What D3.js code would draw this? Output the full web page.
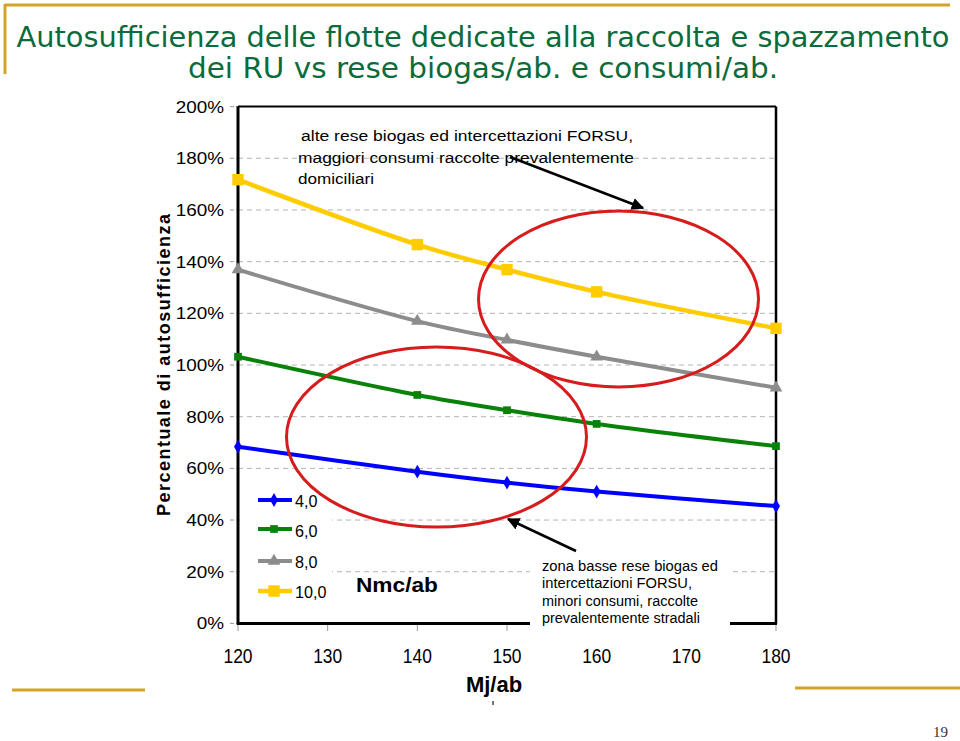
<!DOCTYPE html>
<html><head><meta charset="utf-8">
<script src="https://cdn.jsdelivr.net/npm/d3@7"></script>
<style>body{margin:0;background:#fff;} svg{display:block}</style>
</head><body><svg id="c" width="960" height="741"></svg>
<script>
// ---- data ----
const titleLines = ["Autosufficienza delle flotte dedicate alla raccolta e spazzamento", "dei RU vs rese biogas/ab. e consumi/ab."];
const xTicks = [120, 130, 140, 150, 160, 170, 180];
const yTicks = [0, 0.2, 0.4, 0.6, 0.8, 1.0, 1.2, 1.4, 1.6, 1.8, 2.0];
const xValues = [120, 140, 150, 160, 180];
const seriesNames = ["4,0", "6,0", "8,0", "10,0"];
const s4  = [0.684, 0.587, 0.545, 0.510, 0.454];
const s6  = [1.032, 0.884, 0.825, 0.772, 0.686];
const s8  = [1.369, 1.170, 1.097, 1.032, 0.912];
const s10 = [1.717, 1.466, 1.369, 1.283, 1.142];
const xTitle = "Mj/ab";
const yTitle = "Percentuale di autosufficienza";
const legendTitle = "Nmc/ab";
const noteTop = [" alte rese biogas ed intercettazioni FORSU,", "maggiori consumi raccolte prevalentemente", "domiciliari"];
const noteBottom = ["zona  basse rese biogas ed", "intercettazioni FORSU,", "minori consumi, raccolte", "prevalentemente stradali"];
const pageNumber = "19";

// ---- drawing ----
const svg = d3.select("#c");
const F = "'Liberation Sans', Arial, Helvetica, sans-serif";
const gold = "#d4a32a";
const x = d3.scaleLinear().domain([120, 180]).range([238, 776]);
const y = d3.scaleLinear().domain([0, 2]).range([623.4, 106.6]);

// slide decorations
svg.append("line").attr("x1", 5).attr("x2", 950).attr("y1", 5).attr("y2", 5).attr("stroke", gold).attr("stroke-width", 3);
svg.append("line").attr("x1", 5).attr("x2", 5).attr("y1", 4).attr("y2", 74).attr("stroke", gold).attr("stroke-width", 3);
svg.append("line").attr("x1", 12).attr("x2", 145).attr("y1", 690).attr("y2", 690).attr("stroke", gold).attr("stroke-width", 3);
svg.append("line").attr("x1", 795).attr("x2", 960).attr("y1", 688).attr("y2", 688).attr("stroke", gold).attr("stroke-width", 3);
svg.append("text").attr("x", 948).attr("y", 737).attr("text-anchor", "end")
  .attr("font-family", "'Liberation Serif', 'Times New Roman', serif").attr("font-size", 15).attr("fill", "#333").text(pageNumber);

// title
const titleW = [933, 590];
titleLines.forEach((t, i) => {
  svg.append("text").attr("x", 483).attr("y", 47 + i * 31).attr("text-anchor", "middle")
    .attr("font-family", "'DejaVu Sans Condensed', 'DejaVu Sans', sans-serif").attr("font-size", 28)
    .attr("fill", "#0b6b3b").attr("textLength", titleW[i]).attr("lengthAdjust", "spacingAndGlyphs").text(t);
});

// gridlines
svg.append("g").selectAll("line").data(yTicks.filter(v => v > 0 && v < 2)).join("line")
  .attr("x1", x(120)).attr("x2", x(180)).attr("y1", d => y(d)).attr("y2", d => y(d))
  .attr("stroke", "#b4b4b4").attr("stroke-width", 1).attr("stroke-dasharray", "5,4");

// legend background (hides grid behind legend)
svg.append("rect").attr("x", 240).attr("y", 482).attr("width", 92).attr("height", 132).attr("fill", "#fff");

// tick marks
svg.append("g").selectAll("line").data(yTicks).join("line")
  .attr("x1", 230).attr("x2", 238).attr("y1", d => y(d)).attr("y2", d => y(d))
  .attr("stroke", "#999").attr("stroke-width", 1).attr("stroke-dasharray", "4,2");
svg.append("g").selectAll("line").data(xTicks).join("line")
  .attr("x1", d => x(d)).attr("x2", d => x(d)).attr("y1", 624).attr("y2", 631)
  .attr("stroke", "#999").attr("stroke-width", 1);

// frame
svg.append("line").attr("x1", x(120)).attr("x2", x(180)).attr("y1", y(2)).attr("y2", y(2)).attr("stroke", "#000").attr("stroke-width", 2);
svg.append("line").attr("x1", x(180)).attr("x2", x(180)).attr("y1", y(2)).attr("y2", y(0)).attr("stroke", "#000").attr("stroke-width", 2.5);
svg.append("line").attr("x1", x(120)).attr("x2", x(120)).attr("y1", y(2)).attr("y2", y(0) + 1).attr("stroke", "#000").attr("stroke-width", 3);
svg.append("line").attr("x1", x(120) - 1).attr("x2", x(180) + 1).attr("y1", y(0)).attr("y2", y(0)).attr("stroke", "#000").attr("stroke-width", 3);

// series
const series = [
  { name: seriesNames[0], vals: s4, color: "#0000ff", sym: d3.symbolDiamond, size: 55, w: 4 },
  { name: seriesNames[1], vals: s6, color: "#0a820a", sym: d3.symbolSquare, size: 60, w: 4 },
  { name: seriesNames[2], vals: s8, color: "#8c8c8c", sym: d3.symbolTriangle, size: 70, w: 4 },
  { name: seriesNames[3], vals: s10, color: "#ffcc00", sym: d3.symbolSquare, size: 130, w: 4.5 }
];
const line = d3.line().x(d => x(d[0])).y(d => y(d[1])).curve(d3.curveCatmullRom.alpha(0.5));
series.forEach(s => {
  const pts = xValues.map((v, i) => [v, s.vals[i]]);
  svg.append("path").attr("d", line(pts)).attr("fill", "none").attr("stroke", s.color).attr("stroke-width", s.w).attr("stroke-linejoin", "round");
  svg.append("g").selectAll("path").data(pts).join("path")
    .attr("transform", d => `translate(${x(d[0])},${y(d[1])})`)
    .attr("d", d3.symbol().type(s.sym).size(s.size)).attr("fill", s.color);
});

// bottom annotation background (hides axis part)
svg.append("rect").attr("x", 530).attr("y", 549).attr("width", 200).attr("height", 86).attr("fill", "#fff");

// ellipses
svg.append("ellipse").attr("cx", 618.5).attr("cy", 299).attr("rx", 140).attr("ry", 88)
  .attr("fill", "none").attr("stroke", "#d61c1c").attr("stroke-width", 3);
svg.append("ellipse").attr("cx", 436.5).attr("cy", 437).attr("rx", 150).attr("ry", 90)
  .attr("fill", "none").attr("stroke", "#d61c1c").attr("stroke-width", 3);

// arrows
svg.append("defs").append("marker").attr("id", "ah").attr("viewBox", "0 0 10 10")
  .attr("refX", 9).attr("refY", 5).attr("markerWidth", 5).attr("markerHeight", 5).attr("orient", "auto")
  .append("path").attr("d", "M0,0 L10,5 L0,10 Z").attr("fill", "#000");
svg.append("line").attr("x1", 510).attr("y1", 157).attr("x2", 643).attr("y2", 208)
  .attr("stroke", "#000").attr("stroke-width", 2.5).attr("marker-end", "url(#ah)");
svg.append("line").attr("x1", 576).attr("y1", 551).attr("x2", 508).attr("y2", 519)
  .attr("stroke", "#000").attr("stroke-width", 2.5).attr("marker-end", "url(#ah)");

// helper for stretched text
function stext(px, py, str, size, sx, anchor, weight) {
  return svg.append("text").attr("transform", `translate(${px},${py}) scale(${sx},1)`)
    .attr("text-anchor", anchor || "start").attr("font-family", F).attr("font-size", size)
    .attr("font-weight", weight || "normal").attr("fill", "#000").text(str);
}

// y tick labels
yTicks.forEach(v => stext(224, y(v) + 6, d3.format(".0%")(v), 16, 1.18, "end"));
// x tick labels
xTicks.forEach(v => stext(x(v), 663, String(v), 21, 0.83, "middle"));
// axis titles
stext(494, 692, xTitle, 22, 1.0, "middle", "bold");
svg.append("line").attr("x1", 493).attr("x2", 493).attr("y1", 701).attr("y2", 705).attr("stroke", "#444").attr("stroke-width", 1.5);
svg.append("text").attr("transform", "translate(170,365) rotate(-90)").attr("text-anchor", "middle")
  .attr("font-family", F).attr("font-size", 18).attr("font-weight", "bold")
  .attr("textLength", 302).attr("lengthAdjust", "spacing").text(yTitle);

// legend
const legY = [500, 529, 561, 591];
const legBase = [507, 537, 568, 598];
series.forEach((s, i) => {
  svg.append("line").attr("x1", 258).attr("x2", 292).attr("y1", legY[i]).attr("y2", legY[i])
    .attr("stroke", s.color).attr("stroke-width", s.w);
  svg.append("path").attr("transform", `translate(274,${legY[i]})`)
    .attr("d", d3.symbol().type(s.sym).size(s.size)).attr("fill", s.color);
  stext(295, legBase[i], s.name, 17, 0.95, "start");
});
stext(356, 592, legendTitle, 21, 1.08, "start", "bold");

// annotations
const topW = [332, 336, 76];
noteTop.forEach((t, i) => {
  svg.append("text").attr("x", i === 0 ? 301 : 298).attr("y", 141 + i * 21.5)
    .attr("font-family", F).attr("font-size", 15.5).attr("fill", "#000")
    .attr("textLength", topW[i]).attr("lengthAdjust", "spacingAndGlyphs").text(t);
});
const botW = [176, 150, 156, 158];
noteBottom.forEach((t, i) => {
  svg.append("text").attr("x", 542).attr("y", 571 + i * 17.3)
    .attr("font-family", F).attr("font-size", 14).attr("fill", "#000")
    .attr("textLength", botW[i]).attr("lengthAdjust", "spacingAndGlyphs").text(t);
});
</script></body></html>
